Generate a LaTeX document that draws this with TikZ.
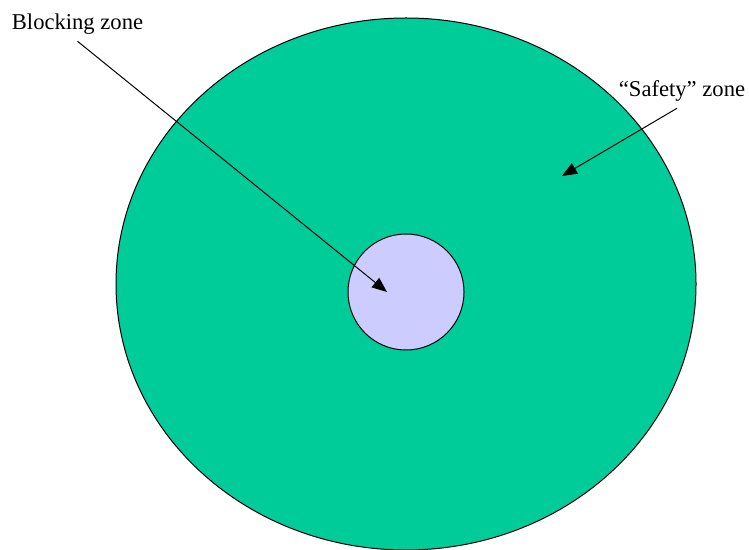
\documentclass[tikz,border=0pt]{standalone}
\usepackage{fontspec}
\setmainfont{Liberation Serif}
\usetikzlibrary{shapes.geometric,arrows.meta}
\definecolor{safegreen}{RGB}{0,204,153}
\definecolor{blocklilac}{RGB}{204,204,255}
\begin{document}
\begin{tikzpicture}[x=0.5pt, y=-0.5pt, font=\fontsize{11.3}{13}\selectfont,
          >={Triangle[length=7.5pt,width=6pt]},
          zone/.style={draw, line width=0.5pt, inner sep=0pt},
          lbl/.style={inner sep=3pt, anchor=base}]
        \useasboundingbox (0,0) rectangle (749,550);
        \node[zone, ellipse, fill=safegreen, minimum width=290pt, minimum height=266pt] (safety) at (406,284) {};
        \node[zone, circle, fill=blocklilac, minimum size=58pt] (blocking) at (406,292) {};
        \node[lbl] (blocklbl) at (77.5,30) {Blocking zone};
        \node[lbl] (safelbl) at (682,97) {“Safety” zone};
        \coordinate (blocktip) at (387,292);
        \coordinate (safetip) at (562,176);
        \draw[->, line width=0.5pt] (blocklbl.south) -- (blocktip);
        \draw[->, line width=0.5pt] (safelbl.south -| 677,0) -- (safetip);
      \end{tikzpicture}
\end{document}
